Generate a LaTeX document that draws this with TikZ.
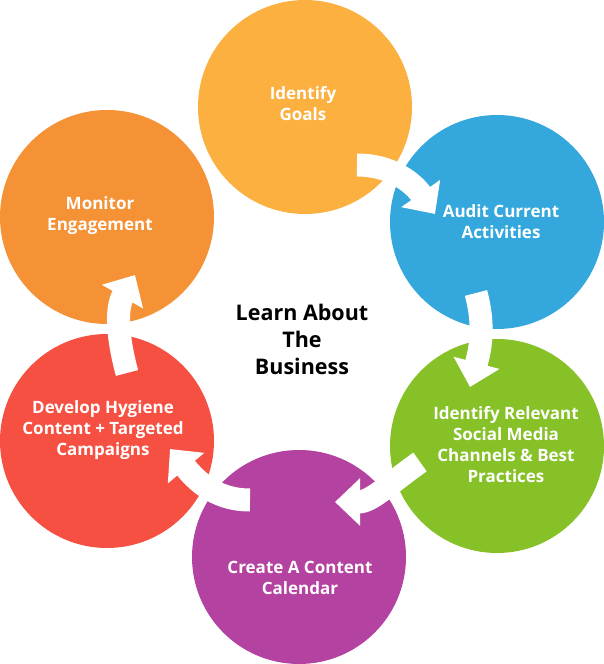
\documentclass[tikz,border=0pt]{standalone}
\usepackage{fontspec}
\setmainfont{Open Sans}
\usepackage{xcolor}
\definecolor{goalyellow}{RGB}{251,176,64}
\definecolor{auditblue}{RGB}{52,167,220}
\definecolor{socialgreen}{RGB}{134,193,39}
\definecolor{calpurple}{RGB}{180,66,160}
\definecolor{hygred}{RGB}{245,80,66}
\definecolor{monorange}{RGB}{245,146,53}
\usepackage{tikz}
\usetikzlibrary{arrows.meta}

\begin{document}
\begin{tikzpicture}[x=1pt, y=1pt,
    stage/.style={circle, minimum size=214pt, inner sep=0pt},
    txt/.style={align=center, text=white,
                font=\fontsize{17}{21}\selectfont\bfseries},
    arr/.style={white, line width=23pt,
                -{Triangle[width=46pt, length=25pt]}},
  ]
  \useasboundingbox (0,0) rectangle (604,664);
  \fill[white] (0,0) rectangle (604,664);

  %% CIRCLES
  \node[stage, fill=goalyellow]  (goals)  at (305,557) {};
  \node[stage, fill=auditblue]   (audit)  at (497,442) {};
  \node[stage, fill=socialgreen] (social) at (497,218) {};
  \node[stage, fill=calpurple]   (cal)    at (299,107) {};
  \node[stage, fill=hygred]      (hyg)    at (107,223) {};
  \node[stage, fill=monorange]   (mon)    at (107,447) {};

  %% LABELS
  \node[txt] (goalsT)  at (303,560) {Identify\\Goals};
  \node[txt] (auditT)  at (501,442) {Audit Current\\Activities};
  \node[txt] (socialT) at (506,219) {Identify Relevant\\Social Media\\Channels \& Best\\Practices};
  \node[txt] (calT)    at (300,86)  {Create A Content\\Calendar};
  \node[txt] (hygT)    at (103,234) {Develop Hygiene\\Content + Targeted\\Campaigns};
  \node[txt] (monT)    at (100,448) {Monitor\\Engagement};

  \node[align=center, font=\fontsize{21.5}{27}\selectfont\bfseries] (learn)
    at (302,325) {Learn About\\The\\Business};

  %% ARROWS
  \coordinate (a1s) at (357,499); \coordinate (a1e) at (435,450);
  \coordinate (a2s) at (476,371); \coordinate (a2e) at (470,277);
  \coordinate (a3s) at (420,202); \coordinate (a3e) at (335,162);
  \coordinate (a4s) at (250,164); \coordinate (a4e) at (170,215);
  \coordinate (a5s) at (127,291); \coordinate (a5e) at (135,389);

  \draw[arr] (a1s) to[out=0,   in=125] (a1e);
  \draw[arr] (a2s) to[out=-75, in=75]  (a2e);
  \draw[arr] (a3s) to[out=215, in=0]   (a3e);
  \draw[arr] (a4s) to[out=180, in=-50] (a4e);
  \draw[arr] (a5s) to[out=105, in=240] (a5e);

\end{tikzpicture}
\end{document}
